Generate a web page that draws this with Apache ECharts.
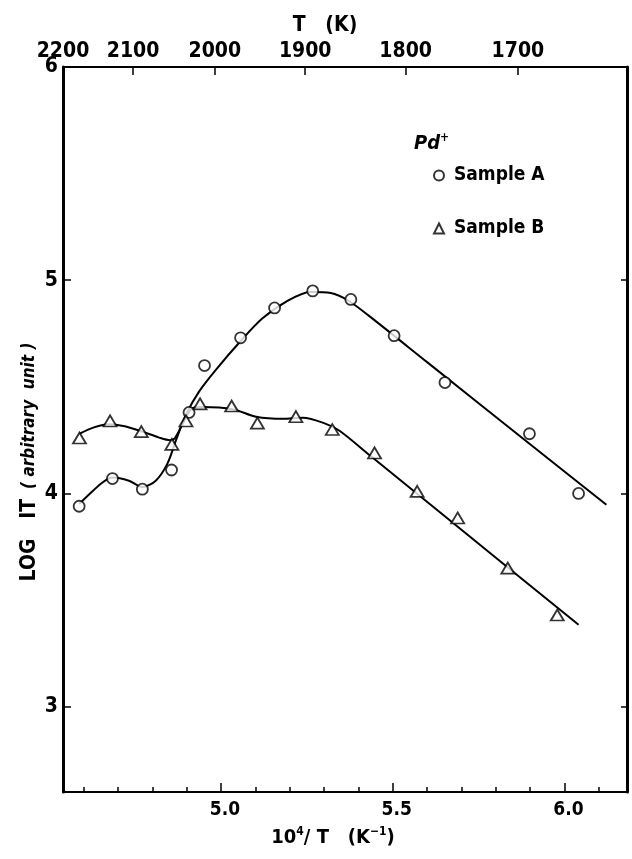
<!DOCTYPE html>
<html><head><meta charset="utf-8">
<script src="https://cdn.jsdelivr.net/npm/echarts@6/dist/echarts.min.js"></script>
<style>html,body{margin:0;padding:0;background:#fff}#c{width:632px;height:859px}</style>
</head><body><div id="c"></div>
<script>
// Data
const sampleA = [[4.587,3.94],[4.684,4.07],[4.771,4.02],[4.856,4.11],[4.907,4.38],[4.952,4.60],[5.057,4.73],[5.156,4.87],[5.267,4.95],[5.378,4.91],[5.504,4.74],[5.652,4.52],[5.898,4.28],[6.041,4.00]];
const sampleB = [[4.588,4.26],[4.677,4.34],[4.768,4.29],[4.857,4.23],[4.898,4.34],[4.939,4.42],[5.031,4.41],[5.106,4.33],[5.218,4.36],[5.324,4.30],[5.447,4.19],[5.571,4.01],[5.689,3.885],[5.835,3.65],[5.979,3.43]];
const curveA = [[4.587,3.95],[4.606,3.98],[4.654,4.05],[4.684,4.075],[4.732,4.06],[4.771,4.03],[4.81,4.06],[4.844,4.14],[4.869,4.25],[4.898,4.37],[4.937,4.48],[4.985,4.58],[5.058,4.716],[5.12,4.82],[5.19,4.90],[5.26,4.945],[5.32,4.94],[5.37,4.905],[5.43,4.834],[5.6,4.616],[5.9,4.231],[6.122,3.947]];
const curveB = [[4.588,4.28],[4.63,4.31],[4.674,4.325],[4.72,4.315],[4.771,4.29],[4.82,4.262],[4.852,4.25],[4.866,4.26],[4.888,4.325],[4.917,4.40],[4.946,4.405],[5.034,4.395],[5.102,4.36],[5.18,4.35],[5.238,4.355],[5.30,4.33],[5.345,4.294],[5.433,4.179],[5.7,3.83],[6.041,3.384]];
const bottomLabels = [5.0, 5.5, 6.0];
const bottomTicks = [4.6,4.7,4.8,4.9,5.0,5.1,5.2,5.3,5.4,5.5,5.6,5.7,5.8,5.9,6.0,6.1];
const topTemps = [2200, 2100, 2000, 1900, 1800, 1700];
const yLabels = [3, 4, 5, 6];
const yTicks = [3, 4, 5];

const FONT = "'Liberation Sans Narrow','DejaVu Sans Condensed',sans-serif";
const topMin = 4.558, topMax = 6.200;
const topPos = topTemps.map(t => Math.max(1e4 / t, topMin));

const chart = echarts.init(document.getElementById('c'), null, {renderer: 'canvas'});
const lineStyleAxis = {color: '#000', width: 2};
chart.setOption({
  animation: false,
  backgroundColor: '#fff',
  grid: {left: 63, top: 67, width: 564, height: 725, containLabel: false},
  legend: {
    orient: 'vertical', left: 428, top: 161, itemGap: 34,
    itemWidth: 10, itemHeight: 10,
    data: ['Sample A', 'Sample B'],
    textStyle: {fontFamily: FONT, fontSize: 19, fontWeight: 'bold', color: '#000', padding: [0,0,0,5]}
  },
  xAxis: [
    {type: 'value', position: 'bottom', min: 4.54, max: 6.182,
     axisLine: {show: true, lineStyle: lineStyleAxis},
     axisTick: {show: true, inside: true, length: 5, customValues: bottomTicks, lineStyle: {color: '#000', width: 1.5}},
     axisLabel: {customValues: bottomLabels, formatter: v => v.toFixed(1), margin: 9, color: '#000', fontFamily: FONT, fontSize: 19, fontWeight: 'bold', padding: [0,0,0,8]},
     splitLine: {show: false},
     name: '{a|10}{s|4}{a|/ T   (K}{s|−1}{a|)}', nameLocation: 'middle', nameGap: 34,
     nameTextStyle: {padding: [0, 24, 0, 0], rich: {a: {fontFamily: FONT, fontSize: 20, fontWeight: 'bold', color: '#000'}, s: {fontFamily: FONT, fontSize: 12, fontWeight: 'bold', color: '#000', padding: [0,0,12,0]}}}
    },
    {type: 'value', position: 'bottom', min: 4.54, max: 6.182,
     axisLine: {show: false},
     axisTick: {show: true, inside: true, length: 9, customValues: bottomLabels, lineStyle: {color: '#000', width: 1.5}},
     axisLabel: {show: false}, splitLine: {show: false}
    },
    {type: 'value', position: 'top', min: topMin, max: topMax,
     axisLine: {show: true, lineStyle: lineStyleAxis},
     axisTick: {show: true, inside: true, length: 8, customValues: topPos.slice(1), lineStyle: {color: '#000', width: 1.5}},
     axisLabel: {customValues: topPos, formatter: v => String(Math.round(1e4 / v / 100) * 100), margin: 5, color: '#000', fontFamily: FONT, fontSize: 21, fontWeight: 'bold'},
     splitLine: {show: false},
     name: 'T   (K)', nameLocation: 'middle', nameGap: 30,
     nameTextStyle: {fontFamily: FONT, fontSize: 21, fontWeight: 'bold', color: '#000', padding: [0, 40, 0, 0]}
    }
  ],
  yAxis: [
    {type: 'value', position: 'left', min: 2.6, max: 6,
     axisLine: {show: true, lineStyle: {color: '#000', width: 3}},
     axisTick: {show: true, inside: true, length: 8, customValues: yTicks, lineStyle: {color: '#000', width: 1.5}},
     axisLabel: {customValues: yLabels, margin: 5, color: '#000', fontFamily: FONT, fontSize: 21, fontWeight: 'bold'},
     splitLine: {show: false}
    },
    {type: 'value', position: 'right', min: 2.6, max: 6,
     axisLine: {show: true, lineStyle: {color: '#000', width: 3}},
     axisTick: {show: true, inside: true, length: 6, customValues: yTicks, lineStyle: {color: '#000', width: 1.5}},
     axisLabel: {show: false}, splitLine: {show: false}
    }
  ],
  graphic: [
    {type: 'text', x: 30, y: 462, rotation: Math.PI / 2,
     style: {text: '{a|LOG   IT}   {b|( arbitrary  unit )}', align: 'center', verticalAlign: 'middle',
       rich: {a: {fontFamily: FONT, fontSize: 21, fontWeight: 'bold', fill: '#000'},
              b: {fontFamily: FONT, fontSize: 17, fontWeight: 'bold', fontStyle: 'italic', fill: '#000'}}}},
    {type: 'text', x: 414, y: 144,
     style: {text: '{a|Pd}{s|+}', align: 'left', verticalAlign: 'middle',
       rich: {a: {fontFamily: FONT, fontSize: 20, fontWeight: 'bold', fontStyle: 'italic', fill: '#000'},
              s: {fontFamily: FONT, fontSize: 12, fontWeight: 'bold', fill: '#000', padding: [0,0,12,0]}}}}
  ],
  series: [
    {name: 'curveA', type: 'line', data: curveA, smooth: 0.3, showSymbol: false, symbol: 'none',
     lineStyle: {color: '#000', width: 2}, silent: true, z: 2},
    {name: 'curveB', type: 'line', data: curveB, smooth: 0.3, showSymbol: false, symbol: 'none',
     lineStyle: {color: '#000', width: 2}, silent: true, z: 2},
    {name: 'Sample A', type: 'scatter', data: sampleA, symbol: 'circle', symbolSize: 11,
     itemStyle: {color: '#fff', borderColor: '#000', borderWidth: 1.8}, z: 3},
    {name: 'Sample B', type: 'scatter', data: sampleB, symbol: 'triangle', symbolSize: [13, 11],
     itemStyle: {color: '#fff', borderColor: '#000', borderWidth: 1.8}, z: 3}
  ]
});
</script></body></html>
